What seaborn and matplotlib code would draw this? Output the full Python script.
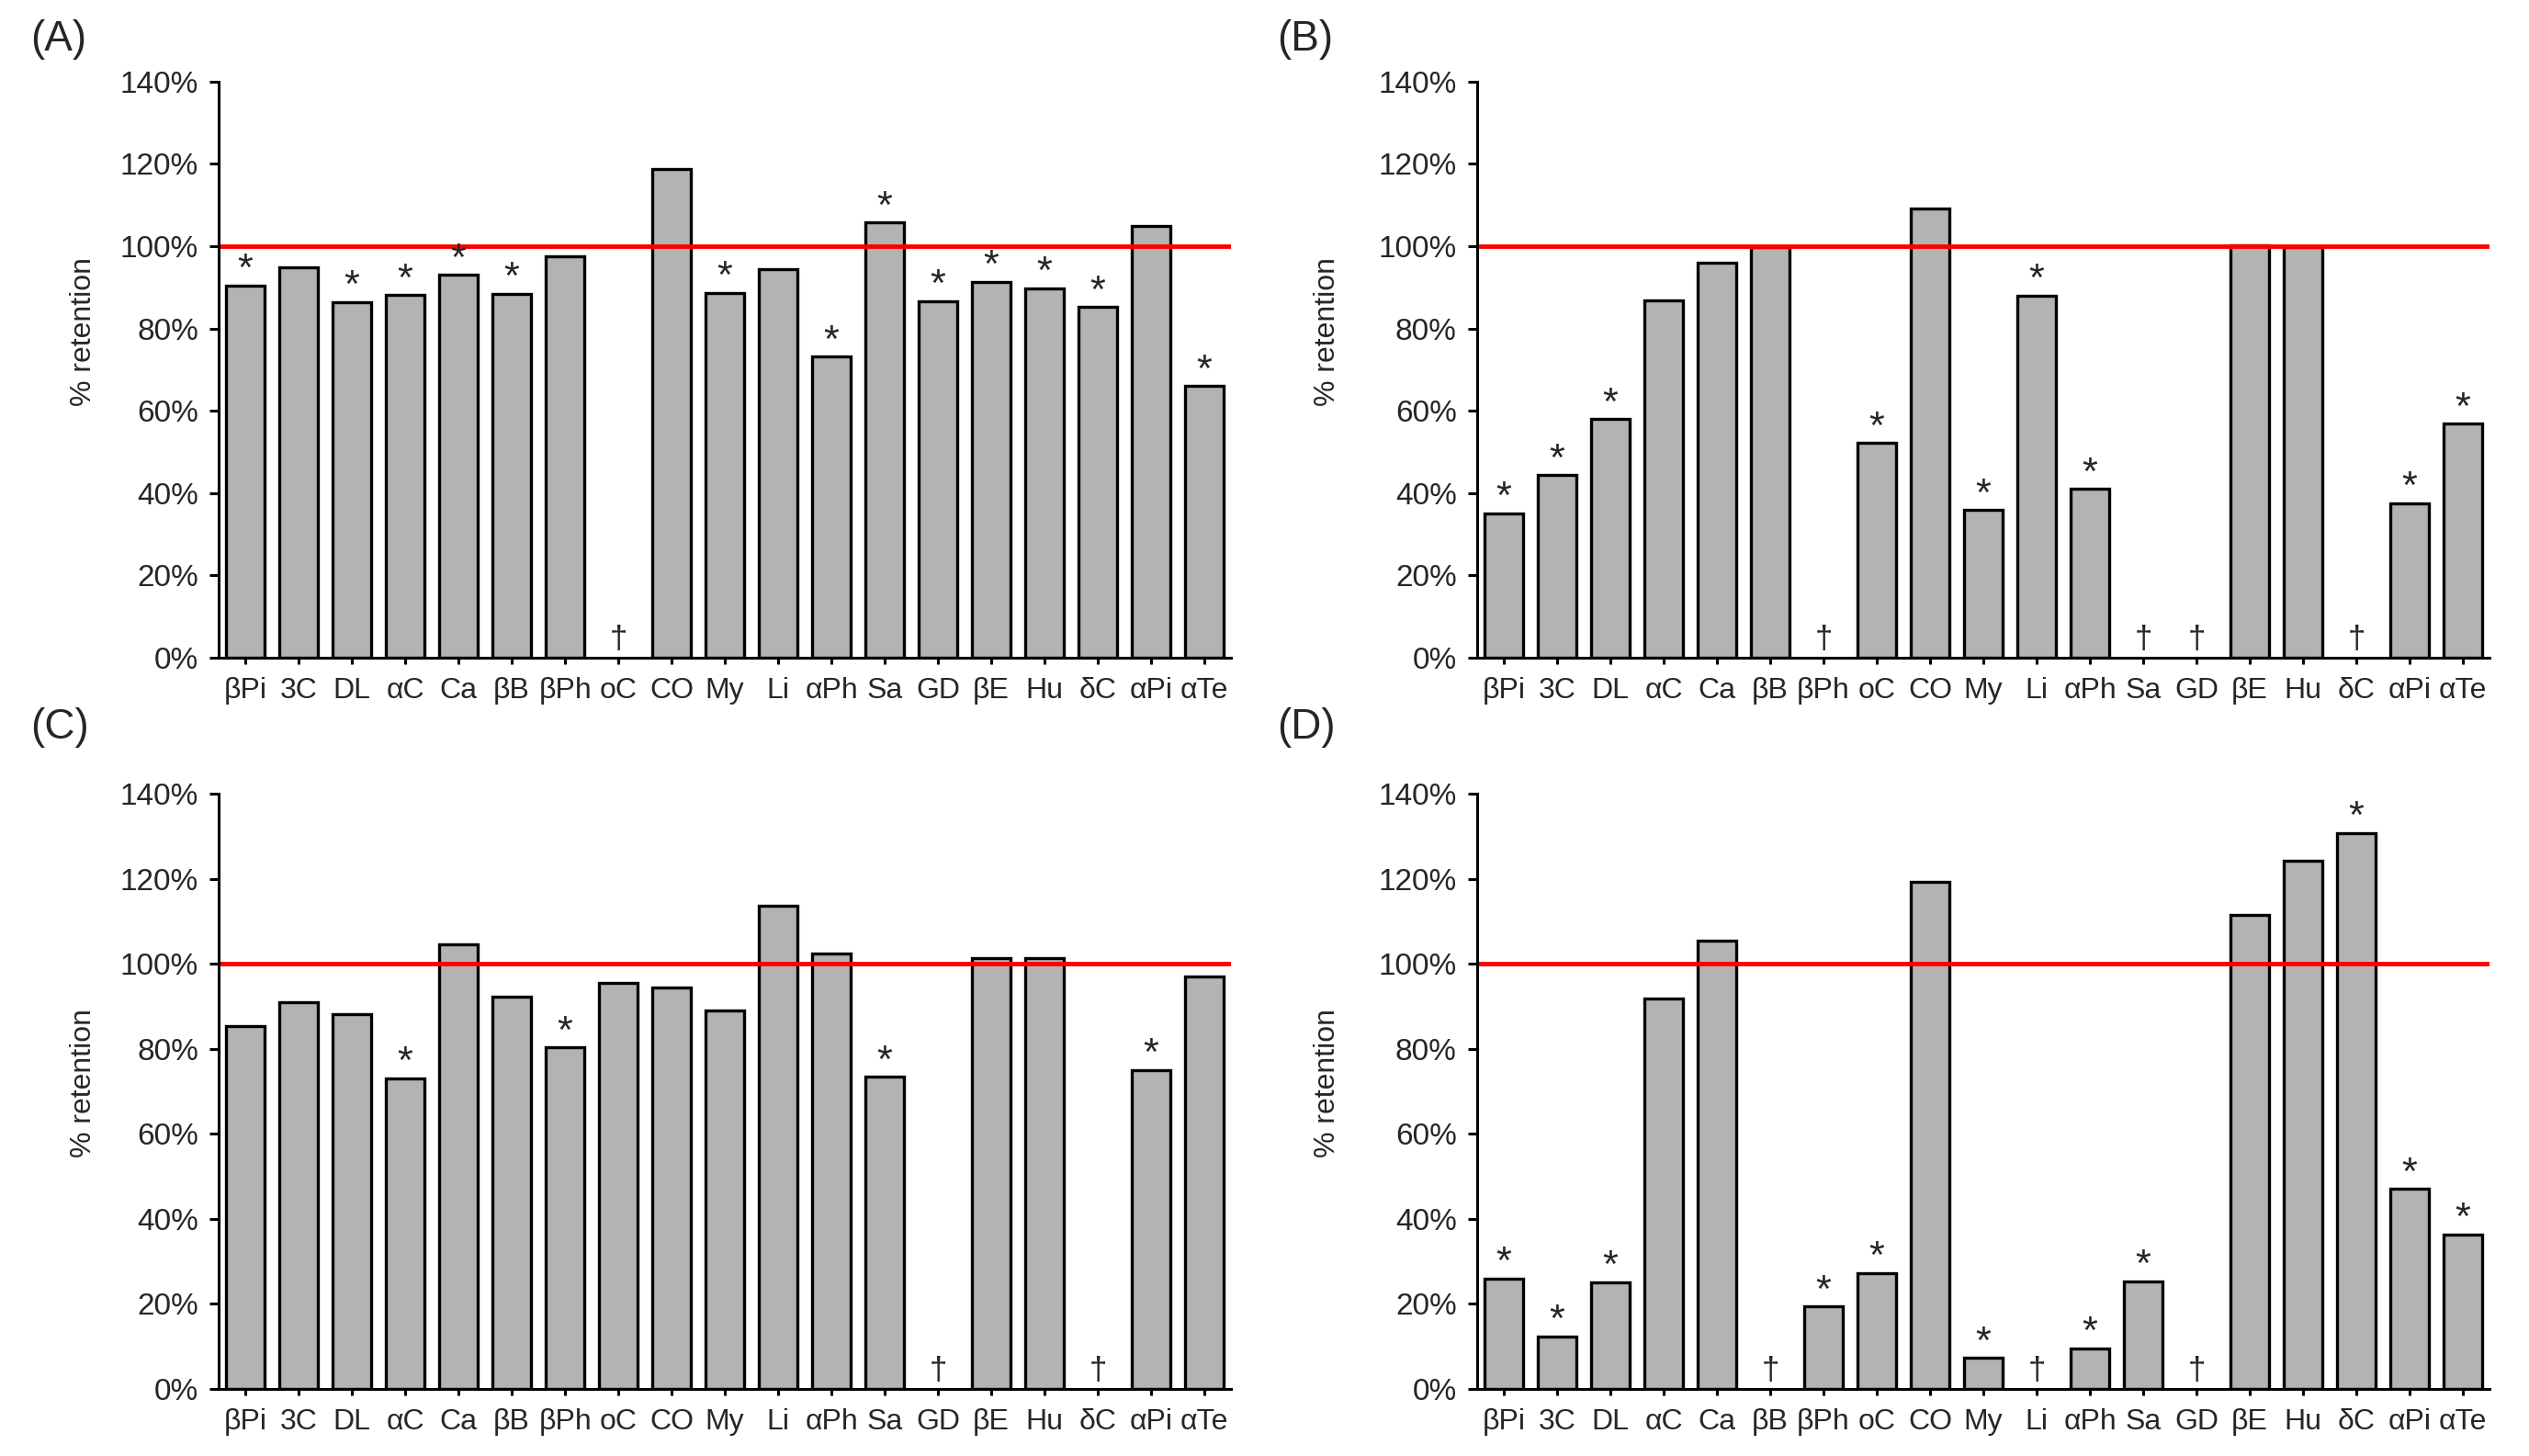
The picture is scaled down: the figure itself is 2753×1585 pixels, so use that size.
import numpy as np
import pandas as pd
import seaborn as sns
import matplotlib.pyplot as plt
from matplotlib.ticker import PercentFormatter

compounds = ["βPi", "3C", "DL", "αC", "Ca", "βB", "βPh", "oC", "CO", "My",
             "Li", "αPh", "Sa", "GD", "βE", "Hu", "δC", "αPi", "αTe"]

# % retention per compound, nan = not detected (†)
ret_a = [90.5, 94.9, 86.5, 88.2, 93.0, 88.5, 97.5, np.nan, 118.8, 88.7,
         94.4, 73.2, 105.8, 86.7, 91.4, 89.8, 85.3, 105.0, 66.1]
ret_b = [35.1, 44.4, 58.0, 86.8, 96.0, 99.9, np.nan, 52.2, 109.1, 35.9,
         88.0, 41.0, np.nan, np.nan, 100.3, 99.7, np.nan, 37.6, 56.9]
ret_c = [85.4, 90.9, 88.2, 73.1, 104.6, 92.3, 80.3, 95.4, 94.5, 89.0,
         113.7, 102.3, 73.4, np.nan, 101.4, 101.4, np.nan, 75.0, 97.0]
ret_d = [26.0, 12.3, 25.1, 91.9, 105.5, np.nan, 19.4, 27.3, 119.2, 7.3,
         np.nan, 9.5, 25.3, np.nan, 111.4, 124.3, 130.7, 47.0, 36.3]

stars_a = ["βPi", "DL", "αC", "Ca", "βB", "My", "αPh", "Sa", "GD", "βE", "Hu", "δC", "αTe"]
stars_b = ["βPi", "3C", "DL", "oC", "My", "Li", "αPh", "αPi", "αTe"]
stars_c = ["αC", "βPh", "Sa", "αPi"]
stars_d = ["βPi", "3C", "DL", "βPh", "oC", "My", "αPh", "Sa", "δC", "αPi", "αTe"]

panels = ["(A)", "(B)", "(C)", "(D)"]

sns.set_style("ticks")
plt.rcParams['font.family'] = ['Liberation Sans', 'DejaVu Sans']

bar_grey = '#b3b3b3'

fig = plt.figure(figsize=(27.53, 15.85), dpi=100)
boxes = [[0.0865, 0.5483, 0.4003, 0.3956],
         [0.5841, 0.5483, 0.4003, 0.3956],
         [0.0865, 0.0461, 0.4003, 0.4088],
         [0.5841, 0.0461, 0.4003, 0.4088]]
label_pos = [(0.0120, 0.973), (0.5050, 0.973), (0.0120, 0.500), (0.5050, 0.500)]
ylab_pos = [(-0.120, 0.566), (-0.134, 0.566), (-0.120, 0.514), (-0.134, 0.514)]

for box, vals, stars, lab, lp, yp in zip(boxes, [ret_a, ret_b, ret_c, ret_d],
                                         [stars_a, stars_b, stars_c, stars_d],
                                         panels, label_pos, ylab_pos):
    ax = fig.add_axes(box)
    df = pd.DataFrame({"compound": compounds, "retention": vals})
    sns.barplot(x="compound", y="retention", data=df, order=compounds,
                color=bar_grey, edgecolor='black', linewidth=2.4,
                width=0.72, saturation=1, errorbar=None, ax=ax)
    ax.axhline(100, color='#ff0000', lw=3.5, zorder=1)
    for i, (c, v) in enumerate(zip(compounds, vals)):
        if np.isnan(v):
            ax.text(i, 2.2, "†", ha='center', va='baseline', fontsize=25)
        elif c in stars:
            ax.text(i, v + 1.2, "*", ha='center', va='baseline', fontsize=31)
    ax.set_ylim(0, 140)
    ax.set_xlim(-0.5, len(compounds) - 0.5)
    ax.set_yticks(range(0, 141, 20))
    ax.yaxis.set_major_formatter(PercentFormatter(decimals=0))
    ax.set_xlabel("")
    ax.set_ylabel("% retention", fontsize=23)
    ax.yaxis.set_label_coords(yp[0], yp[1])
    ax.tick_params(axis='both', width=2.2, color='black')
    ax.tick_params(axis='y', length=7, pad=9, labelsize=24)
    ax.tick_params(axis='x', length=5, pad=10, labelsize=23)
    sns.despine(ax=ax)
    for s in ['left', 'bottom']:
        ax.spines[s].set_linewidth(2.2)
        ax.spines[s].set_color('black')
    fig.text(lp[0], lp[1], lab, fontsize=33, ha='left', va='center')

fig.savefig("out.png", dpi=100)
